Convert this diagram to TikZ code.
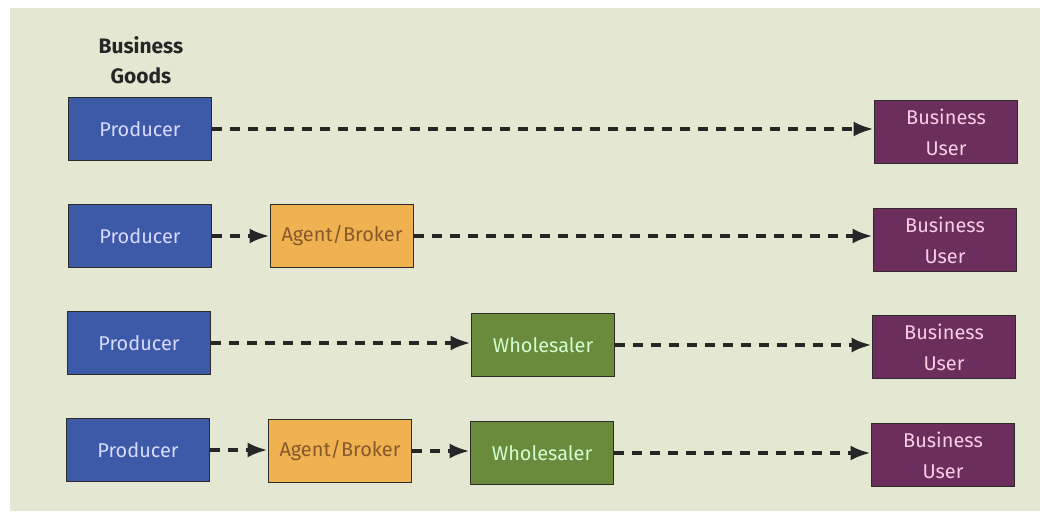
\documentclass[tikz,border=0pt]{standalone}
\usepackage{fontspec}
\setmainfont{Fira Sans}
\usetikzlibrary{arrows.meta}
\definecolor{bgc}{HTML}{E4E8D3}
\definecolor{prodc}{HTML}{3D5AA8}
\definecolor{agentc}{HTML}{F0B150}
\definecolor{wholec}{HTML}{6A8A3C}
\definecolor{userc}{HTML}{6C2E5C}
\definecolor{edgec}{HTML}{2E2A28}
\tikzset{
  box/.style={draw=edgec, line width=1.6bp, minimum width=143bp, minimum height=63bp,
    inner sep=0pt, font=\fontsize{20}{31}\selectfont, align=center},
  producer/.style={box, fill=prodc, text=white!85!blue},
  agent/.style={box, fill=agentc, text=brown!70!black},
  wholesaler/.style={box, fill=wholec, text=white!82!green},
  user/.style={box, fill=userc, text=white!80!magenta},
  flow/.style={line width=4bp, dash pattern=on 10bp off 8bp,
    -{Latex[length=20bp,width=15bp]}, black!85}
}
\begin{document}
\begin{tikzpicture}[x=1bp,y=-1bp]
  \useasboundingbox (0,0) rectangle (1050,519);
  \fill[white] (0,0) rectangle (1050,519);
  \fill[bgc] (10,8) rectangle (1040,511);

  \node[font=\bfseries\fontsize{21}{30}\selectfont, text=black!85, align=center] (title) at (141,60) {Business\\Goods};

  % channel 1
  \node[producer] (p1) at (140,129) {Producer};
  \node[user] (u1) at (946,132) {Business\\User};
  \draw[flow] (p1) -- (u1.west |- p1);

  % channel 2
  \node[producer] (p2) at (140,236) {Producer};
  \node[agent] (a2) at (342,236) {Agent/Broker};
  \node[user] (u2) at (945,240) {Business\\User};
  \draw[flow] (p2) -- (a2);
  \draw[flow] (a2) -- (u2.west |- a2);

  % channel 3
  \node[producer] (p3) at (139,343) {Producer};
  \node[wholesaler] (w3) at (543,345) {Wholesaler};
  \node[user] (u3) at (944,347) {Business\\User};
  \draw[flow] (p3.east) -- (w3.west |- p3);
  \draw[flow] (w3) -- (u3.west |- w3);

  % channel 4
  \node[producer] (p4) at (138,450) {Producer};
  \node[agent] (a4) at (340,451) {Agent/Broker};
  \node[wholesaler] (w4) at (542,453) {Wholesaler};
  \node[user] (u4) at (943,455) {Business\\User};
  \draw[flow] (p4) -- (a4.west |- p4);
  \draw[flow] (a4) -- (w4.west |- a4);
  \draw[flow] (w4) -- (u4.west |- w4);
\end{tikzpicture}
\end{document}
